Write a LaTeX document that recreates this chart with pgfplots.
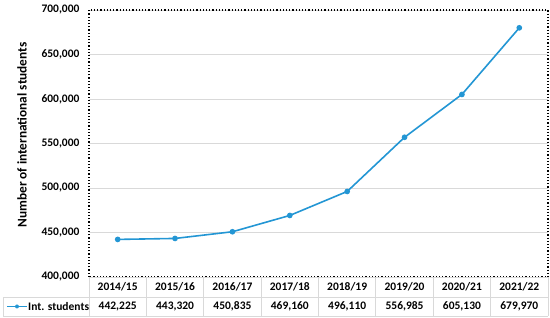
\documentclass[border=0pt]{standalone}
\usepackage{pgfplots}
\pgfplotsset{compat=1.18}
\usepackage{pgfplotstable}
\usepackage{fontspec}
\setmainfont{Carlito}

\definecolor{lineblue}{RGB}{35,150,212}
\definecolor{gridgray}{RGB}{217,217,217}

\pgfplotstableread{
x year students
0 2014/15 442225
1 2015/16 443320
2 2016/17 450835
3 2017/18 469160
4 2018/19 496110
5 2019/20 556985
6 2020/21 605130
7 2021/22 679970
}\students

\begin{document}
\begin{tikzpicture}[x=1pt,y=1pt,font=\fontsize{11.5}{13}\selectfont\bfseries]
\useasboundingbox (0,0) rectangle (550,318);
\begin{axis}[
    at={(89pt,41pt)}, anchor=south west,
    width=459pt, height=267pt, scale only axis,
    xmin=-0.5, xmax=7.5,
    ymin=400000, ymax=700000,
    ytick={400000,450000,...,700000},
    xtick=\empty,
    ymajorgrids=true,
    grid style={gridgray, line width=0.8pt},
    axis line style={black, line width=1.2pt, dotted},
    major tick length=0pt,
    yticklabel style={font=\fontsize{11.5}{13}\selectfont\bfseries, xshift=-6pt},
    /pgf/number format/.cd, fixed, precision=0, 1000 sep={,}, assume math mode=true,
    /pgfplots/.cd,
    scaled y ticks=false,
    clip=false,
]
\addplot[lineblue, line width=1.6pt, mark=*, mark size=2pt, mark options={fill=lineblue, draw=lineblue}]
    table[x=x, y=students] {\students};
\end{axis}

% y axis title
\node[rotate=90, font=\fontsize{13.3}{15}\selectfont\bfseries] at (22,183) {Number of international students};

% data table below the plot
\begin{scope}[gridgray, line width=0.8pt]
  \draw (89,41) -- (548,41);
  \draw (3,21) -- (548,21);
  \draw (3,2) -- (548,2);
  \draw (3,2) -- (3,21);
  \foreach \i in {0,...,8} {
    \draw ({89+57.375*\i},2) -- ({89+57.375*\i},41);
  }
\end{scope}
\foreach \i/\yr/\v in {0/2014\slash 15/442225, 1/2015\slash 16/443320, 2/2016\slash 17/450835,
    3/2017\slash 18/469160, 4/2018\slash 19/496110, 5/2019\slash 20/556985,
    6/2020\slash 21/605130, 7/2021\slash 22/679970} {
  \node at ({89+57.375*(\i+0.5)},31) {\yr};
  \node at ({89+57.375*(\i+0.5)},11.5)
    {\pgfmathprintnumber[fixed,precision=0,1000 sep={,},assume math mode=true]{\v}};
}
\draw[lineblue, line width=1.6pt] (7,11.5) -- (27,11.5);
\fill[lineblue] (17,11.5) circle (2pt);
\node[anchor=west, inner sep=0pt] at (28,11.5) {Int. students};
\end{tikzpicture}
\end{document}
